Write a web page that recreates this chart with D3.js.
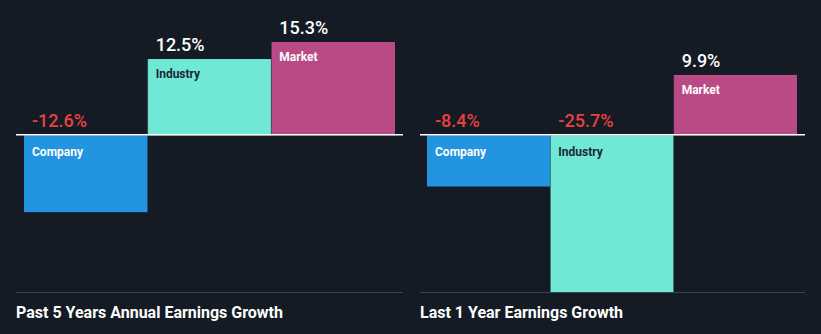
<!DOCTYPE html>
<html>
<head>
<meta charset="utf-8">
<script src="https://cdn.jsdelivr.net/npm/d3@7"></script>
<style>
  html, body { margin: 0; padding: 0; background: #151b25; }
  svg { display: block; }
  text { font-family: Roboto, "Noto Sans", sans-serif; }
</style>
</head>
<body>
<svg id="chart" width="821" height="334"></svg>
<script>
// Earnings growth comparison: company vs industry vs market
const categories = ["Company", "Industry", "Market"];
const panelTitles = ["Past 5 Years Annual Earnings Growth", "Last 1 Year Earnings Growth"];
const past5Years = [-12.6, 12.5, 15.3];
const last1Year = [-8.4, -25.7, 9.9];
const barColors = ["#2394df", "#70e8d6", "#b94a86"];
const barLabelColors = ["#ffffff", "#1d2733", "#ffffff"];

const svg = d3.select("#chart");
const allValues = past5Years.concat(last1Year);

// Shared vertical scale across both panels
const y = d3.scaleLinear()
  .domain([d3.min(allValues), d3.max(allValues)])
  .range([292, 42]);

// plain hyphen for negatives
const fmt = v => d3.format(".1f")(v).replace("\u2212", "-") + "%";

const panels = [
  { title: panelTitles[0], values: past5Years, x0: 16, x1: 403, barX0: 24, barX1: 395 },
  { title: panelTitles[1], values: last1Year, x0: 420, x1: 805, barX0: 427, barX1: 797 }
];

panels.forEach(p => {
  const g = svg.append("g");
  const x = d3.scaleBand().domain(categories).range([p.barX0, p.barX1]).padding(0);
  const data = categories.map((c, i) => ({ c, v: p.values[i], i }));
  const y0 = y(0);

  // bars
  g.selectAll("rect.bar").data(data).enter().append("rect")
    .attr("class", "bar")
    .attr("x", d => x(d.c))
    .attr("width", x.bandwidth())
    .attr("y", d => Math.min(y(d.v), y0))
    .attr("height", d => Math.abs(y(d.v) - y0))
    .attr("fill", d => barColors[d.i]);

  // thin separators at bar edges
  g.selectAll("line.sep").data(data.slice(1)).enter().append("line")
    .attr("x1", d => x(d.c)).attr("x2", d => x(d.c))
    .attr("y1", d => Math.min(y(d.v), y(data[d.i - 1].v), y0))
    .attr("y2", d => Math.max(y(d.v), y(data[d.i - 1].v), y0))
    .attr("stroke", "rgba(20,30,40,0.35)")
    .attr("stroke-width", 1);

  // zero line
  g.append("line")
    .attr("x1", p.x0).attr("x2", p.x1)
    .attr("y1", y0 - 0.5).attr("y2", y0 - 0.5)
    .attr("stroke", "#ffffff").attr("stroke-width", 1.5);

  // bottom rule
  g.append("line")
    .attr("x1", p.x0).attr("x2", p.x1)
    .attr("y1", 292.5).attr("y2", 292.5)
    .attr("stroke", "#3b4250").attr("stroke-width", 1);

  // value labels
  g.selectAll("text.val").data(data).enter().append("text")
    .attr("class", "val")
    .attr("x", d => x(d.c) + 8)
    .attr("y", d => d.v >= 0 ? y(d.v) - 8 : y0 - 8)
    .attr("fill", d => d.v >= 0 ? "#ffffff" : "#e8413f")
    .attr("font-size", 18)
    .attr("font-weight", 500)
    .text(d => fmt(d.v));

  // category labels inside bars
  g.selectAll("text.cat").data(data).enter().append("text")
    .attr("class", "cat")
    .attr("x", d => x(d.c) + 8)
    .attr("y", d => d.v >= 0 ? y(d.v) + 19 : y0 + 21)
    .attr("fill", d => barLabelColors[d.i])
    .attr("font-size", 12)
    .attr("font-weight", 700)
    .text(d => d.c);

  // panel title
  g.append("text")
    .attr("x", p.x0)
    .attr("y", 318)
    .attr("fill", "#ffffff")
    .attr("font-size", 16)
    .attr("font-weight", 700)
    .text(p.title);
});
</script>
</body>
</html>
